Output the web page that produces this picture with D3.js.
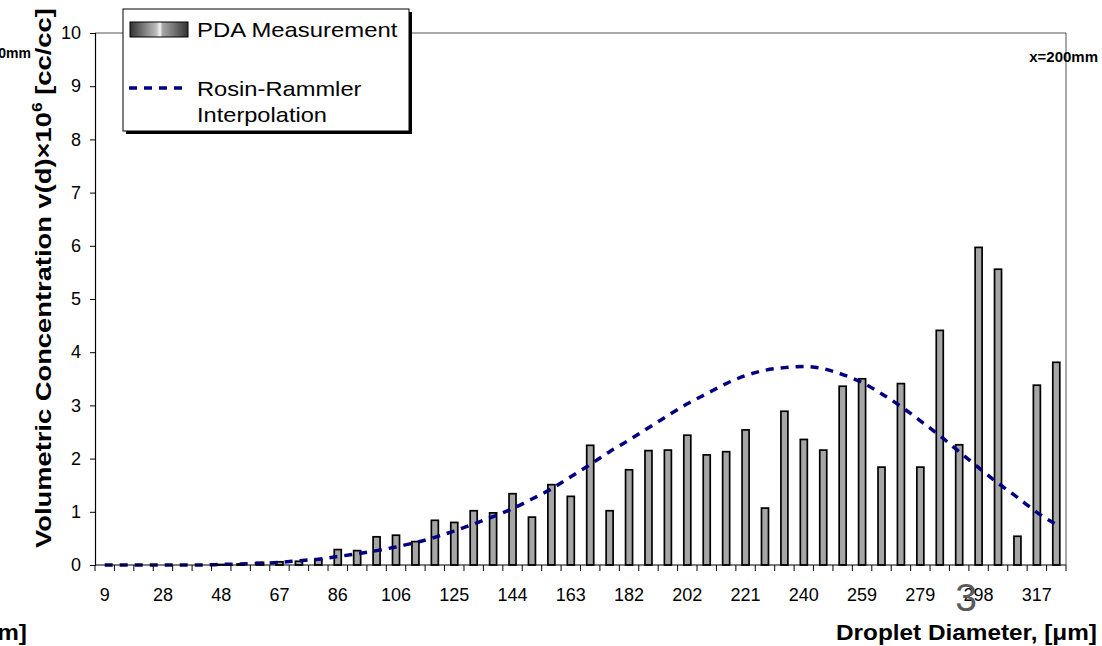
<!DOCTYPE html>
<html lang="en">
<head>
    <meta charset="UTF-8">
    <title>Droplet size distribution x=200mm</title>
    <script src="https://d3js.org/d3.v7.min.js"></script>
    <style>
        body {
            margin: 0;
            background: #ffffff;
        }
        svg text {
            font-family: "Liberation Sans", Arial, sans-serif;
            fill: #000;
        }
        .tick-label {
            font-size: 18px;
        }
        .title {
            font-size: 22px;
            font-weight: bold;
        }
        .legend-text {
            font-size: 20px;
        }
        .bar {
            fill: #a6a6a6;
            stroke: #000;
            stroke-width: 1.7px;
        }
        .rr-line {
            fill: none;
            stroke: #000080;
            stroke-width: 3.5px;
            stroke-dasharray: 8, 7;
        }
    </style>
</head>
<body>
    <svg id="chart" width="1102" height="646"></svg>
    <script>
        // Droplet diameter bins [um]
        const diameters = [9, 15, 22, 28, 35, 41, 48, 54, 60, 67,
            73, 80, 86, 93, 99, 106, 112, 118, 125, 131,
            138, 144, 151, 157, 163, 170, 176, 182, 189, 195,
            202, 208, 215, 221, 227, 234, 240, 247, 253, 259,
            266, 272, 279, 285, 291, 298, 304, 311, 317, 324];

        // PDA measurement, v(d) x 1e6
        const pdaValues = [0.00, 0.00, 0.00, 0.00, 0.00, 0.00, 0.01, 0.02, 0.05, 0.06,
            0.07, 0.11, 0.29, 0.27, 0.53, 0.56, 0.44, 0.84, 0.80, 1.02,
            0.98, 1.34, 0.90, 1.51, 1.29, 2.25, 1.02, 1.79, 2.15, 2.16,
            2.44, 2.07, 2.13, 2.54, 1.07, 2.89, 2.36, 2.16, 3.36, 3.50,
            1.84, 3.41, 1.84, 4.41, 2.26, 5.97, 5.56, 0.54, 3.38, 3.81];

        // Rosin-Rammler interpolation
        const rrValues = [0.00, 0.00, 0.00, 0.00, 0.00, 0.00, 0.01, 0.02, 0.03, 0.05,
            0.08, 0.11, 0.16, 0.21, 0.27, 0.34, 0.42, 0.52, 0.64, 0.77,
            0.91, 1.06, 1.24, 1.43, 1.66, 1.89, 2.13, 2.35, 2.58, 2.81,
            3.03, 3.22, 3.41, 3.56, 3.66, 3.71, 3.73, 3.69, 3.58, 3.43,
            3.22, 2.98, 2.71, 2.43, 2.13, 1.83, 1.54, 1.27, 0.99, 0.76];

        const yTicks = [0, 1, 2, 3, 4, 5, 6, 7, 8, 9, 10];

        const margin = { left: 95, right: 1066, top: 33, bottom: 565 };
        const svg = d3.select("#chart");

        const x = d3.scaleBand()
            .domain(diameters)
            .range([margin.left, margin.right]);
        const y = d3.scaleLinear()
            .domain([0, 10])
            .range([margin.bottom, margin.top]);
        const barW = 7;

        // stretch a text horizontally so it covers a given length
        function fitText(g, text, target) {
            const w = text.node().getBBox().width;
            const tr = g.attr("transform") || "";
            g.attr("transform", tr + ` scale(${target / w},1)`);
        }

        // plot frame (top and right)
        svg.append("path")
            .attr("d", `M${margin.left},${margin.top}H${margin.right}V${margin.bottom}`)
            .attr("fill", "none")
            .attr("stroke", "#555")
            .attr("stroke-width", 1);

        // bars
        svg.selectAll(".bar")
            .data(diameters)
            .enter()
            .append("rect")
            .attr("class", "bar")
            .attr("x", d => x(d) + x.bandwidth() / 2 - barW / 2)
            .attr("width", barW)
            .attr("y", (d, i) => y(pdaValues[i]))
            .attr("height", (d, i) => y(0) - y(pdaValues[i]));

        // Rosin-Rammler line
        const line = d3.line()
            .x((d, i) => x(diameters[i]) + x.bandwidth() / 2)
            .y(d => y(d))
            .curve(d3.curveMonotoneX);
        svg.append("path")
            .datum(rrValues)
            .attr("class", "rr-line")
            .attr("d", line);

        // y axis
        const yAxis = svg.append("g")
            .attr("transform", `translate(${margin.left},0)`)
            .call(d3.axisLeft(y).tickValues(yTicks).tickSize(5).tickPadding(9));
        yAxis.select(".domain").attr("stroke", "#000").attr("stroke-width", 1.2);
        yAxis.selectAll(".tick line").attr("stroke", "#000");
        yAxis.selectAll(".tick text")
            .attr("class", "tick-label")
            .style("font-size", "18px")
            .style("font-family", "Liberation Sans, Arial, sans-serif");

        // x axis: ticks on category boundaries, labels every 3rd bin
        const xAxisG = svg.append("g");
        xAxisG.append("line")
            .attr("x1", margin.left).attr("x2", margin.right)
            .attr("y1", y(0)).attr("y2", y(0))
            .attr("stroke", "#000").attr("stroke-width", 1.2);
        xAxisG.selectAll(".xtick")
            .data(diameters.concat(["end"]))
            .enter()
            .append("line")
            .attr("x1", d => d === "end" ? margin.right : x(d))
            .attr("x2", d => d === "end" ? margin.right : x(d))
            .attr("y1", y(0)).attr("y2", y(0) + 6)
            .attr("stroke", "#000");
        xAxisG.selectAll(".xlabel")
            .data(diameters.filter((d, i) => i % 3 === 0))
            .enter()
            .append("text")
            .attr("class", "tick-label")
            .attr("x", d => x(d) + x.bandwidth() / 2)
            .attr("y", 601)
            .attr("text-anchor", "middle")
            .text(d => d);

        // axis titles
        const yTitleG = svg.append("g").attr("transform", "translate(51,548) rotate(-90)");
        const yTitle = yTitleG.append("text").attr("class", "title");
        yTitle.append("tspan").text("Volumetric Concentration v(d)\u00d710");
        yTitle.append("tspan").attr("dy", -9).style("font-size", "14px").text("6");
        yTitle.append("tspan").attr("dy", 9).text(" [cc/cc]");
        fitText(yTitleG, yTitle, 540);

        const xTitleG = svg.append("g").attr("transform", "translate(836,640)");
        const xTitle = xTitleG.append("text").attr("class", "title")
            .text("Droplet Diameter, [\u03bcm]");
        fitText(xTitleG, xTitle, 261);

        // clipped copy of the neighbouring chart's title
        const xTitle2G = svg.append("g").attr("transform", "translate(-234,640)");
        const xTitle2 = xTitle2G.append("text").attr("class", "title")
            .text("Droplet Diameter, [\u03bcm]");
        fitText(xTitle2G, xTitle2, 261);

        // position labels
        svg.append("text")
            .attr("x", 1098).attr("y", 62)
            .attr("text-anchor", "end")
            .style("font-size", "15px").style("font-weight", "bold")
            .text("x=200mm");
        svg.append("text")
            .attr("x", 31).attr("y", 58)
            .attr("text-anchor", "end")
            .style("font-size", "14px").style("font-weight", "bold")
            .text("x=200mm");

        // page number
        svg.append("text")
            .attr("x", 966).attr("y", 611)
            .attr("text-anchor", "middle")
            .style("font-size", "39px")
            .style("fill", "#5a5a5a")
            .text("3");

        // legend
        const defs = svg.append("defs");
        const grad = defs.append("linearGradient").attr("id", "barGrad");
        [["0%", "#333333"], ["45%", "#bbbbbb"], ["52%", "#f4f4f4"], ["56%", "#a8a8a8"], ["100%", "#333333"]]
            .forEach(s => grad.append("stop").attr("offset", s[0]).attr("stop-color", s[1]));

        const legend = svg.append("g");
        legend.append("rect")
            .attr("x", 126).attr("y", 12).attr("width", 286).attr("height", 122)
            .attr("fill", "#000");
        legend.append("rect")
            .attr("x", 123).attr("y", 9).attr("width", 286).attr("height", 122)
            .attr("fill", "#fff").attr("stroke", "#000").attr("stroke-width", 1);
        legend.append("rect")
            .attr("x", 130).attr("y", 22).attr("width", 58).attr("height", 15)
            .attr("fill", "url(#barGrad)").attr("stroke", "#000").attr("stroke-width", 1);
        legend.append("line")
            .attr("class", "rr-line")
            .attr("x1", 129).attr("x2", 186)
            .attr("y1", 88).attr("y2", 88);

        const legendTexts = [
            { t: "PDA Measurement", x: 197, y: 37, w: 201 },
            { t: "Rosin-Rammler", x: 197, y: 96, w: 165 },
            { t: "Interpolation", x: 197, y: 122, w: 130 }
        ];
        legendTexts.forEach(d => {
            const g = legend.append("g").attr("transform", `translate(${d.x},${d.y})`);
            const t = g.append("text").attr("class", "legend-text").text(d.t);
            fitText(g, t, d.w);
        });
    </script>
</body>
</html>
